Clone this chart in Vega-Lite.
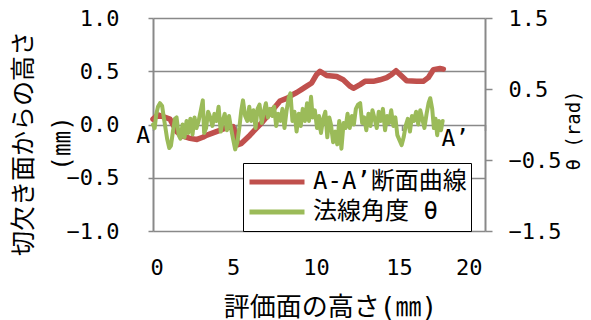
{
  "$schema": "https://vega.github.io/schema/vega-lite/v6.json",
  "width": 332,
  "height": 213,
  "autosize": {"type": "none"},
  "padding": {"left": 153, "top": 18, "right": 106, "bottom": 89},
  "background": "white",
  "datasets": {
    "profile": [
      {"x": 0.0, "h": 0.05}, {"x": 0.3, "h": 0.09}, {"x": 0.6, "h": 0.075}, {"x": 1.02, "h": 0.05},
      {"x": 1.45, "h": -0.07}, {"x": 1.8, "h": -0.11}, {"x": 2.23, "h": -0.13}, {"x": 2.65, "h": -0.14},
      {"x": 3.0, "h": -0.12}, {"x": 3.25, "h": -0.1}, {"x": 3.86, "h": -0.065}, {"x": 4.16, "h": -0.047},
      {"x": 4.46, "h": -0.03}, {"x": 4.82, "h": -0.02}, {"x": 5.0, "h": -0.12}, {"x": 5.12, "h": -0.19},
      {"x": 5.3, "h": -0.18}, {"x": 5.84, "h": -0.1}, {"x": 6.63, "h": 0.03}, {"x": 7.23, "h": 0.14},
      {"x": 7.65, "h": 0.22}, {"x": 8.13, "h": 0.25}, {"x": 8.4, "h": 0.28}, {"x": 8.66, "h": 0.3},
      {"x": 8.96, "h": 0.33}, {"x": 9.26, "h": 0.36}, {"x": 9.56, "h": 0.39}, {"x": 9.86, "h": 0.47},
      {"x": 10.06, "h": 0.5}, {"x": 10.46, "h": 0.46}, {"x": 11.07, "h": 0.45}, {"x": 11.46, "h": 0.42},
      {"x": 11.87, "h": 0.36}, {"x": 12.07, "h": 0.34}, {"x": 12.47, "h": 0.375}, {"x": 12.77, "h": 0.405},
      {"x": 13.27, "h": 0.405}, {"x": 13.67, "h": 0.42}, {"x": 14.08, "h": 0.44}, {"x": 14.38, "h": 0.47},
      {"x": 14.64, "h": 0.505}, {"x": 14.88, "h": 0.47}, {"x": 15.28, "h": 0.41}, {"x": 15.89, "h": 0.405},
      {"x": 16.28, "h": 0.405}, {"x": 16.58, "h": 0.44}, {"x": 16.89, "h": 0.515}, {"x": 17.29, "h": 0.525},
      {"x": 17.49, "h": 0.52}
    ],
    "angle": [
      {"x": 0.0, "t": 0.0}, {"x": 0.1, "t": -0.05}, {"x": 0.2, "t": 0.15}, {"x": 0.3, "t": 0.25},
      {"x": 0.42, "t": 0.3}, {"x": 0.55, "t": 0.26}, {"x": 0.65, "t": 0.1}, {"x": 0.75, "t": -0.05},
      {"x": 0.85, "t": -0.2}, {"x": 0.98, "t": -0.33}, {"x": 1.08, "t": -0.3}, {"x": 1.2, "t": -0.1},
      {"x": 1.32, "t": 0.08}, {"x": 1.42, "t": 0.1}, {"x": 1.55, "t": -0.15}, {"x": 1.65, "t": -0.2},
      {"x": 1.78, "t": 0.0}, {"x": 1.9, "t": -0.18}, {"x": 2.02, "t": 0.05}, {"x": 2.12, "t": -0.12},
      {"x": 2.25, "t": 0.08}, {"x": 2.38, "t": -0.14}, {"x": 2.5, "t": 0.1}, {"x": 2.62, "t": -0.05},
      {"x": 2.75, "t": 0.05}, {"x": 2.88, "t": 0.2}, {"x": 3.0, "t": 0.34}, {"x": 3.08, "t": -0.12},
      {"x": 3.2, "t": -0.05}, {"x": 3.32, "t": 0.18}, {"x": 3.45, "t": 0.1}, {"x": 3.58, "t": -0.02},
      {"x": 3.7, "t": 0.15}, {"x": 3.82, "t": 0.05}, {"x": 3.95, "t": 0.25}, {"x": 4.08, "t": -0.1},
      {"x": 4.2, "t": 0.05}, {"x": 4.32, "t": 0.15}, {"x": 4.45, "t": -0.08}, {"x": 4.58, "t": 0.12},
      {"x": 4.7, "t": -0.05}, {"x": 4.82, "t": -0.2}, {"x": 4.95, "t": -0.35}, {"x": 5.08, "t": -0.25},
      {"x": 5.2, "t": -0.05}, {"x": 5.32, "t": 0.2}, {"x": 5.42, "t": 0.34}, {"x": 5.55, "t": 0.12},
      {"x": 5.68, "t": 0.05}, {"x": 5.8, "t": 0.25}, {"x": 5.92, "t": 0.05}, {"x": 6.05, "t": 0.2},
      {"x": 6.18, "t": -0.05}, {"x": 6.3, "t": 0.22}, {"x": 6.42, "t": 0.28}, {"x": 6.55, "t": 0.02},
      {"x": 6.68, "t": 0.18}, {"x": 6.8, "t": 0.3}, {"x": 6.92, "t": 0.1}, {"x": 7.05, "t": 0.22},
      {"x": 7.18, "t": 0.12}, {"x": 7.3, "t": 0.25}, {"x": 7.42, "t": -0.02}, {"x": 7.55, "t": 0.15},
      {"x": 7.68, "t": 0.05}, {"x": 7.8, "t": 0.22}, {"x": 7.92, "t": -0.05}, {"x": 8.05, "t": 0.2},
      {"x": 8.18, "t": 0.38}, {"x": 8.28, "t": 0.44}, {"x": 8.4, "t": 0.05}, {"x": 8.52, "t": 0.18},
      {"x": 8.65, "t": -0.1}, {"x": 8.78, "t": 0.15}, {"x": 8.9, "t": -0.02}, {"x": 9.02, "t": 0.22},
      {"x": 9.15, "t": 0.05}, {"x": 9.28, "t": 0.3}, {"x": 9.4, "t": 0.05}, {"x": 9.52, "t": 0.39},
      {"x": 9.62, "t": 0.1}, {"x": 9.75, "t": 0.2}, {"x": 9.88, "t": -0.05}, {"x": 10.0, "t": 0.12},
      {"x": 10.12, "t": -0.12}, {"x": 10.25, "t": 0.08}, {"x": 10.38, "t": 0.18}, {"x": 10.5, "t": -0.18},
      {"x": 10.62, "t": 0.1}, {"x": 10.72, "t": 0.0}, {"x": 10.85, "t": -0.25}, {"x": 10.98, "t": -0.1},
      {"x": 11.1, "t": -0.28}, {"x": 11.22, "t": 0.05}, {"x": 11.35, "t": -0.34}, {"x": 11.48, "t": 0.02},
      {"x": 11.6, "t": -0.05}, {"x": 11.72, "t": 0.15}, {"x": 11.85, "t": -0.05}, {"x": 11.98, "t": 0.12},
      {"x": 12.1, "t": 0.0}, {"x": 12.22, "t": 0.22}, {"x": 12.35, "t": 0.28}, {"x": 12.48, "t": 0.3},
      {"x": 12.6, "t": 0.02}, {"x": 12.72, "t": 0.1}, {"x": 12.85, "t": -0.08}, {"x": 12.98, "t": 0.15},
      {"x": 13.1, "t": -0.02}, {"x": 13.22, "t": 0.2}, {"x": 13.35, "t": 0.08}, {"x": 13.48, "t": -0.05},
      {"x": 13.6, "t": 0.18}, {"x": 13.72, "t": 0.05}, {"x": 13.85, "t": 0.22}, {"x": 13.98, "t": -0.08},
      {"x": 14.1, "t": 0.12}, {"x": 14.22, "t": 0.02}, {"x": 14.35, "t": 0.2}, {"x": 14.48, "t": -0.02},
      {"x": 14.6, "t": 0.1}, {"x": 14.72, "t": -0.15}, {"x": 14.85, "t": -0.22}, {"x": 14.98, "t": -0.29},
      {"x": 15.1, "t": -0.18}, {"x": 15.22, "t": -0.02}, {"x": 15.35, "t": 0.08}, {"x": 15.48, "t": -0.1},
      {"x": 15.6, "t": 0.12}, {"x": 15.72, "t": 0.05}, {"x": 15.85, "t": 0.18}, {"x": 15.98, "t": 0.0},
      {"x": 16.1, "t": 0.2}, {"x": 16.22, "t": 0.08}, {"x": 16.35, "t": -0.05}, {"x": 16.48, "t": 0.15},
      {"x": 16.6, "t": 0.3}, {"x": 16.7, "t": 0.37}, {"x": 16.82, "t": 0.22}, {"x": 16.92, "t": -0.05},
      {"x": 17.02, "t": 0.08}, {"x": 17.12, "t": -0.15}, {"x": 17.22, "t": 0.05}, {"x": 17.35, "t": -0.08},
      {"x": 17.45, "t": 0.05}
    ],
    "ends": [
      {"x": 0, "h": 0, "label": "A", "side": "start"},
      {"x": 17.5, "h": 0, "label": "A’", "side": "end"}
    ]
  },
  "layer": [
    {
      "layer": [
        {
          "data": {"name": "profile"},
          "mark": {"type": "line", "strokeWidth": 5.5, "strokeJoin": "round", "strokeCap": "round"},
          "encoding": {
            "x": {
              "field": "x", "type": "quantitative",
              "scale": {"domain": [0, 20], "nice": false, "zero": false},
              "axis": {
                "orient": "bottom", "values": [0, 5, 10, 15, 20], "format": "d",
                "grid": false, "ticks": false, "domain": false,
                "labelPadding": 26, "labelOffset": -3,
                "title": "評価面の高さ(㎜)", "titleX": 177, "titleY": 76,
                "titleBaseline": "middle", "titleFontSize": 26
              }
            },
            "y": {
              "field": "h", "type": "quantitative",
              "scale": {"domain": [-1, 1], "nice": false, "zero": false},
              "axis": {
                "orient": "left", "values": [-1, -0.5, 0, 0.5, 1], "format": ".1f",
                "grid": true, "tickSize": 5, "labelPadding": 29,
                "title": ["切欠き面からの高さ", "(㎜)"],
                "titleAngle": 270, "titleX": -130, "titleY": 125,
                "titleBaseline": "middle", "titleAlign": "center",
                "titleFontSize": 25, "titleLineHeight": 38.5
              }
            },
            "color": {
              "datum": "A-A’断面曲線",
              "type": "nominal",
              "scale": {"domain": ["A-A’断面曲線", "法線角度 θ"], "range": ["#C0504D", "#9BBB59"]},
              "legend": {
                "title": null, "orient": "none", "legendX": 90, "legendY": 145,
                "symbolType": "stroke", "symbolSize": 3025, "symbolStrokeWidth": 5,
                "clipHeight": 30, "rowPadding": 0,
                "labelFontSize": 24, "labelOffset": 6, "labelLimit": 400,
                "padding": 4,
                "fillColor": "white", "strokeColor": "black"
              }
            }
          }
        },
        {
          "data": {"name": "ends"},
          "transform": [{"filter": "datum.side === 'start'"}],
          "mark": {"type": "text", "align": "right", "baseline": "top", "dx": -3, "dy": 0, "fontSize": 23},
          "encoding": {
            "x": {"field": "x", "type": "quantitative"},
            "y": {"field": "h", "type": "quantitative"},
            "text": {"field": "label"}
          }
        },
        {
          "data": {"name": "ends"},
          "transform": [{"filter": "datum.side === 'end'"}],
          "mark": {"type": "text", "align": "left", "baseline": "top", "dx": -2, "dy": 3, "fontSize": 23},
          "encoding": {
            "x": {"field": "x", "type": "quantitative"},
            "y": {"field": "h", "type": "quantitative"},
            "text": {"field": "label"}
          }
        }
      ]
    },
    {
      "data": {"name": "angle"},
      "mark": {"type": "line", "strokeWidth": 4, "strokeJoin": "round", "strokeCap": "round"},
      "encoding": {
        "x": {
          "field": "x", "type": "quantitative",
          "axis": {
            "orient": "bottom", "offset": -106.5, "values": [0, 5, 10, 15, 20],
            "labels": false, "ticks": true, "tickSize": 6, "domain": false,
            "grid": false, "title": null
          }
        },
        "y": {
          "field": "t", "type": "quantitative",
          "scale": {"domain": [-1.5, 1.5], "nice": false, "zero": false},
          "axis": {
            "orient": "right", "values": [-1.5, -0.5, 0.5, 1.5], "format": ".1f",
            "grid": false, "tickSize": 7, "labelPadding": 16,
            "title": "θ (rad)", "titleAngle": 270, "titleX": 88, "titleY": 112,
            "titleBaseline": "middle", "titleAlign": "center",
            "titleFont": "DejaVu Sans Mono", "titleFontSize": 19
          }
        },
        "color": {"datum": "法線角度 θ", "type": "nominal"}
      }
    }
  ],
  "resolve": {"scale": {"y": "independent"}, "axis": {"x": "independent"}},
  "config": {
    "view": {"stroke": null},
    "font": "DejaVu Sans Mono, Noto Sans CJK JP",
    "text": {"font": "DejaVu Sans Mono, Noto Sans CJK JP", "color": "black"},
    "axis": {
      "labelFont": "DejaVu Sans Mono, Noto Sans CJK JP",
      "labelFontSize": 22,
      "labelColor": "black",
      "titleFont": "DejaVu Sans Mono, Noto Sans CJK JP",
      "titleFontWeight": "normal",
      "titleColor": "black",
      "domainColor": "#898989",
      "domainWidth": 2,
      "tickColor": "#898989",
      "tickWidth": 1.5,
      "gridColor": "#898989",
      "gridWidth": 1.5,
      "gridOpacity": 1
    },
    "legend": {
      "labelFont": "DejaVu Sans Mono, Noto Sans CJK JP",
      "labelColor": "black"
    }
  }
}
